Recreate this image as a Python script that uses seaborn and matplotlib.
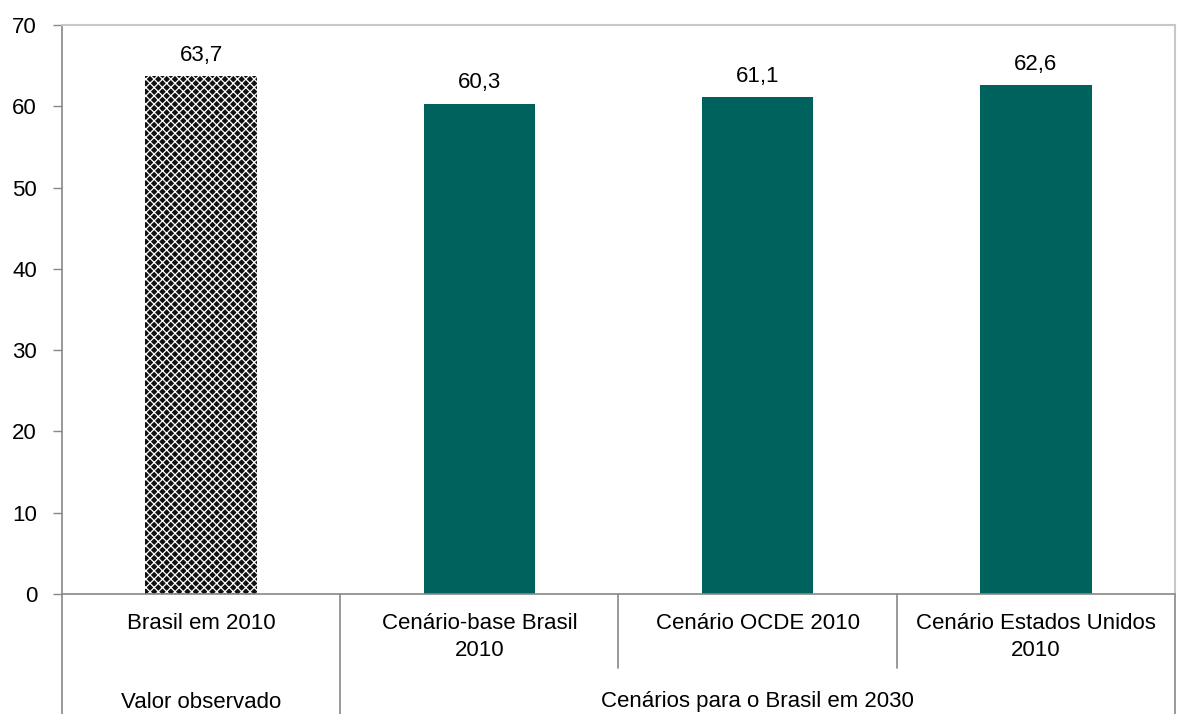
import matplotlib
matplotlib.use("Agg")
import matplotlib.pyplot as plt
import matplotlib.transforms as mtransforms
import seaborn as sns
import pandas as pd

categories = ["Brasil em 2010", "Cenário-base Brasil\n2010", "Cenário OCDE 2010", "Cenário Estados Unidos\n2010"]
values = [63.7, 60.3, 61.1, 62.6]
groups = ["Valor observado", "Cenários para o Brasil em 2030"]
group_spans = [(0, 0), (1, 3)]
yticks = [0, 10, 20, 30, 40, 50, 60, 70]

sns.set_theme(style="white")
plt.rcParams['font.family'] = ['Liberation Sans', 'DejaVu Sans']
plt.rcParams['hatch.linewidth'] = 0.9
plt.rcParams['text.color'] = 'black'
plt.rcParams['ytick.labelcolor'] = 'black'

FS = 16

fig = plt.figure(figsize=(11.8, 7.14), dpi=100)
ax = fig.add_axes([62/1180, 1-594/714, (1175-62)/1180, (594-25)/714])

df = pd.DataFrame({"cat": categories, "val": values})
teal = "#00625C"
sns.barplot(data=df, x="cat", y="val", ax=ax, color=teal, width=0.4, saturation=1)

p0 = ax.patches[0]
p0.set_facecolor("#111111")
p0.set_edgecolor("white")
p0.set_hatch("xxxx")
p0.set_linewidth(0)
for p in ax.patches[1:]:
    p.set_linewidth(0)

for p, v in zip(ax.patches, values):
    ax.annotate(f"{v:.1f}".replace(".", ","), (p.get_x() + p.get_width()/2, p.get_height()),
                xytext=(0, 7.5), textcoords="offset points", ha="center", va="bottom",
                fontsize=FS, color="black")

ax.set_ylim(0, 70)
ax.set_xlim(-0.5, 3.5)
ax.set_yticks(yticks)
ax.set_yticklabels([str(t) for t in yticks], fontsize=FS, color="black")
ax.set_xticks([])
ax.set_xlabel("")
ax.set_ylabel("")
ax.tick_params(axis="y", which="both", left=True, length=6.5, width=1, color="#888888", pad=11.5)

for s in ["left", "bottom"]:
    ax.spines[s].set_color("#888888")
    ax.spines[s].set_linewidth(1.2)
for s in ["top", "right"]:
    ax.spines[s].set_color("#c8c8c8")
    ax.spines[s].set_linewidth(1.5)

trans = mtransforms.blended_transform_factory(ax.transData, ax.transAxes)
h = 569.0
for i, c in enumerate(categories):
    ax.text(i, -(613-594)/h, c, transform=trans, ha="center", va="top",
            fontsize=FS, linespacing=1.38, color="black")

full = -(714-594)/h
short = -(668-594)/h
for xb, yb in [(-0.5, full), (0.5, full), (1.5, short), (2.5, short), (3.5, full)]:
    ax.plot([xb, xb], [0, yb], transform=trans, color="#888888", lw=1.2, clip_on=False)

for g, (a, b) in zip(groups, group_spans):
    ax.text((a+b)/2, -(702-594)/h, g, transform=trans, ha="center", va="center",
            fontsize=FS, color="black")

fig.savefig("out.png", dpi=100)
